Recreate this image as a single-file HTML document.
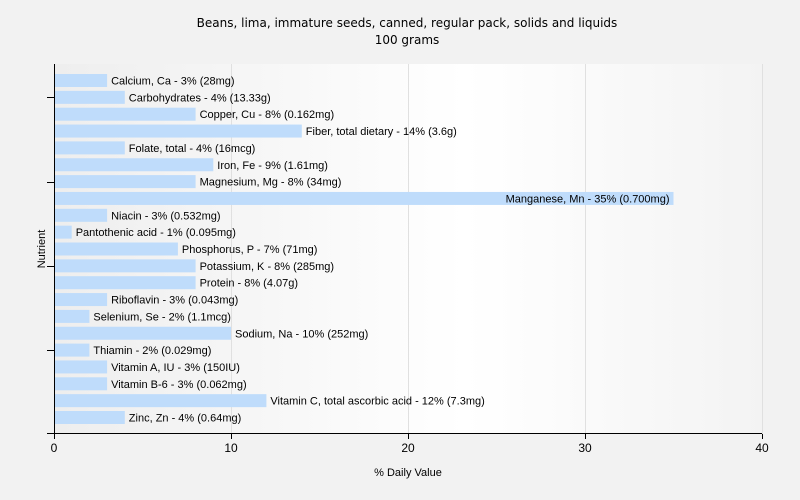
<!DOCTYPE html>
<html><head><meta charset="utf-8"><style>body{margin:0;background:#f2f2f2}svg{display:block}</style></head><body>
<svg width="800" height="500" xmlns="http://www.w3.org/2000/svg" font-family="Liberation Sans, Arial, sans-serif">
<defs><linearGradient id="g" x1="0" x2="1" y1="0" y2="0"><stop offset="0" stop-color="#eeeeee"/><stop offset="0.58" stop-color="#ffffff"/><stop offset="1" stop-color="#f3f3f3"/></linearGradient></defs>
<rect width="800" height="500" fill="#f2f2f2"/>
<rect x="54" y="64" width="708" height="370" fill="url(#g)"/>
<g stroke="#e0e0e0" stroke-width="1"><line x1="231.5" y1="64" x2="231.5" y2="434"/><line x1="408.5" y1="64" x2="408.5" y2="434"/><line x1="585.5" y1="64" x2="585.5" y2="434"/><line x1="762.5" y1="64" x2="762.5" y2="434"/></g>
<text x="407" y="27" text-anchor="middle" font-family="DejaVu Sans, sans-serif" font-size="12" fill="#000">Beans, lima, immature seeds, canned, regular pack, solids and liquids</text>
<text x="407" y="44" text-anchor="middle" font-family="DejaVu Sans, sans-serif" font-size="12" fill="#000">100 grams</text>
<g fill="#bfdcfb">
<rect x="55" y="74" width="52.1" height="13"/>
<rect x="55" y="90.85" width="69.8" height="13"/>
<rect x="55" y="107.7" width="140.6" height="13"/>
<rect x="55" y="124.55" width="246.8" height="13"/>
<rect x="55" y="141.4" width="69.8" height="13"/>
<rect x="55" y="158.25" width="158.3" height="13"/>
<rect x="55" y="175.1" width="140.6" height="13"/>
<rect x="55" y="191.95" width="618.5" height="13"/>
<rect x="55" y="208.8" width="52.1" height="13"/>
<rect x="55" y="225.65" width="16.7" height="13"/>
<rect x="55" y="242.5" width="122.9" height="13"/>
<rect x="55" y="259.35" width="140.6" height="13"/>
<rect x="55" y="276.2" width="140.6" height="13"/>
<rect x="55" y="293.05" width="52.1" height="13"/>
<rect x="55" y="309.9" width="34.4" height="13"/>
<rect x="55" y="326.75" width="176" height="13"/>
<rect x="55" y="343.6" width="34.4" height="13"/>
<rect x="55" y="360.45" width="52.1" height="13"/>
<rect x="55" y="377.3" width="52.1" height="13"/>
<rect x="55" y="394.15" width="211.4" height="13"/>
<rect x="55" y="411" width="69.8" height="13"/>
</g>
<g font-size="11" fill="#000">
<text x="111.1" y="84.5">Calcium, Ca - 3% (28mg)</text>
<text x="128.8" y="101.35">Carbohydrates - 4% (13.33g)</text>
<text x="199.6" y="118.2">Copper, Cu - 8% (0.162mg)</text>
<text x="305.8" y="135.05">Fiber, total dietary - 14% (3.6g)</text>
<text x="128.8" y="151.9">Folate, total - 4% (16mcg)</text>
<text x="217.3" y="168.75">Iron, Fe - 9% (1.61mg)</text>
<text x="199.6" y="185.6">Magnesium, Mg - 8% (34mg)</text>
<text x="669.5" y="202.45" text-anchor="end">Manganese, Mn - 35% (0.700mg)</text>
<text x="111.1" y="219.3">Niacin - 3% (0.532mg)</text>
<text x="75.7" y="236.15">Pantothenic acid - 1% (0.095mg)</text>
<text x="181.9" y="253">Phosphorus, P - 7% (71mg)</text>
<text x="199.6" y="269.85">Potassium, K - 8% (285mg)</text>
<text x="199.6" y="286.7">Protein - 8% (4.07g)</text>
<text x="111.1" y="303.55">Riboflavin - 3% (0.043mg)</text>
<text x="93.4" y="320.4">Selenium, Se - 2% (1.1mcg)</text>
<text x="235" y="337.25">Sodium, Na - 10% (252mg)</text>
<text x="93.4" y="354.1">Thiamin - 2% (0.029mg)</text>
<text x="111.1" y="370.95">Vitamin A, IU - 3% (150IU)</text>
<text x="111.1" y="387.8">Vitamin B-6 - 3% (0.062mg)</text>
<text x="270.4" y="404.65">Vitamin C, total ascorbic acid - 12% (7.3mg)</text>
<text x="128.8" y="421.5">Zinc, Zn - 4% (0.64mg)</text>
</g>
<g stroke="#000" stroke-width="1"><line x1="54.5" y1="64" x2="54.5" y2="434"/><line x1="47" y1="433.5" x2="762" y2="433.5"/>
<line x1="47" y1="97.5" x2="54" y2="97.5"/><line x1="47" y1="182.5" x2="54" y2="182.5"/><line x1="47" y1="266.5" x2="54" y2="266.5"/><line x1="47" y1="350.5" x2="54" y2="350.5"/>
<line x1="54.5" y1="434" x2="54.5" y2="439"/><line x1="231.5" y1="434" x2="231.5" y2="439"/><line x1="408.5" y1="434" x2="408.5" y2="439"/><line x1="585.5" y1="434" x2="585.5" y2="439"/><line x1="762.5" y1="434" x2="762.5" y2="439"/></g>
<g font-size="12" text-anchor="middle" fill="#000"><text x="54" y="452">0</text><text x="231" y="452">10</text><text x="408" y="452">20</text><text x="585" y="452">30</text><text x="762" y="452">40</text></g>
<text x="408" y="476" text-anchor="middle" font-size="11">% Daily Value</text>
<text transform="translate(45,249) rotate(-90)" text-anchor="middle" font-size="11">Nutrient</text>
</svg>
</body></html>
